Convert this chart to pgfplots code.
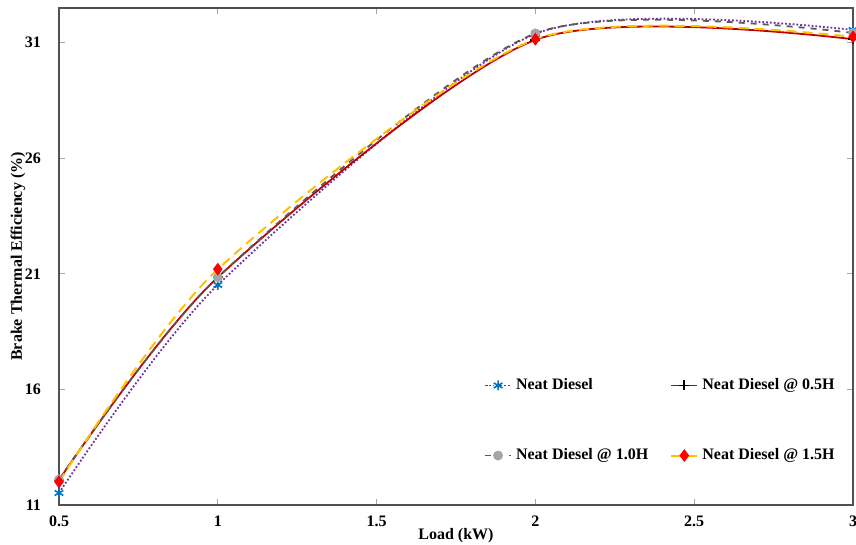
\documentclass[border=0pt]{standalone}
\usepackage{fontspec}
\setmainfont{Liberation Serif}
\usepackage{pgfplots}
\pgfplotsset{compat=1.18}
\definecolor{cpurple}{HTML}{7030A0}
\definecolor{cblue}{HTML}{0070C0}
\definecolor{cdred}{HTML}{C00000}
\definecolor{cdgray}{HTML}{595959}
\definecolor{clgray}{HTML}{A5A5A5}
\definecolor{corange}{HTML}{FFC000}
\definecolor{cframe}{HTML}{505050}
\begin{document}
\begin{tikzpicture}
\begin{axis}[
    scale only axis,
    width=397pt, height=248.5pt,
    xmin=0.5, xmax=3, ymin=11, ymax=32.5,
    xtick={0.5,1,1.5,2,2.5,3},
    ytick={11,16,21,26,31},
    xticklabels={0.5,1,1.5,2,2.5,3},
    yticklabels={11,16,21,26,31},
    font=\fontsize{8}{10}\selectfont\bfseries,
    tick label style={font=\fontsize{8}{10}\selectfont\bfseries},
    axis line style={cframe, line width=0.9pt},
    tick style={clgray, thin},
    tick align=inside,
    major tick length=3pt,
    xlabel={Load (kW)},
    ylabel={Brake Thermal Efficiency (\%)},
    xlabel style={at={(axis description cs:0.5,0)}, anchor=center, yshift=-15.5pt},
    ylabel style={at={(axis description cs:0,0.5)}, anchor=center, yshift=20.5pt},
    xticklabel style={anchor=center, yshift=-8pt},
    yticklabel style={anchor=east, xshift=-5.5pt},
    legend style={draw=none, fill=none, at={(1,0)}, anchor=south east,
        xshift=-4pt, yshift=17pt,
        font=\fontsize{8}{10}\selectfont\bfseries,
        /tikz/every even column/.append style={column sep=9pt},
        row sep=24pt},
    legend columns=2,
    legend cell align=left,
    legend image code/.code={%
        \draw[mark repeat=2,mark phase=2]
        plot coordinates {(0cm,0cm) (0.23cm,0cm) (0.46cm,0cm)};},
    every axis plot/.append style={smooth, tension=0.45},
]
\addplot[cpurple, densely dotted, line width=0.9pt,
    mark=asterisk, mark size=2.5pt, mark options={cblue, solid, thick}]
    coordinates {(0.5,11.52) (1,20.52) (2,31.38) (3,31.55)};
\addlegendentry{Neat Diesel}
\addplot[cdred, solid, line width=0.9pt,
    mark=+, mark size=2.5pt, mark options={black, solid}]
    coordinates {(0.5,12.08) (1,20.85) (2,31.12) (3,31.15)};
\addlegendentry{Neat Diesel @ 0.5H}
\addplot[cdgray, dashed, line width=0.9pt,
    mark=*, mark size=2pt, mark options={clgray, draw=clgray, solid}]
    coordinates {(0.5,12.10) (1,20.85) (2,31.40) (3,31.42)};
\addlegendentry{Neat Diesel @ 1.0H}
\addplot[corange, dash pattern=on 5pt off 3pt, line width=1pt,
    mark=diamond*, mark size=2.4pt, mark options={red, draw=red, solid}]
    coordinates {(0.5,12.00) (1,21.20) (2,31.15) (3,31.25)};
\addlegendentry{Neat Diesel @ 1.5H}
\end{axis}
\pgfresetboundingbox
\path ([xshift=-29.5pt, yshift=-20pt]current axis.south west)
    rectangle ([xshift=1.5pt, yshift=4pt]current axis.north east);
\end{tikzpicture}
\end{document}
